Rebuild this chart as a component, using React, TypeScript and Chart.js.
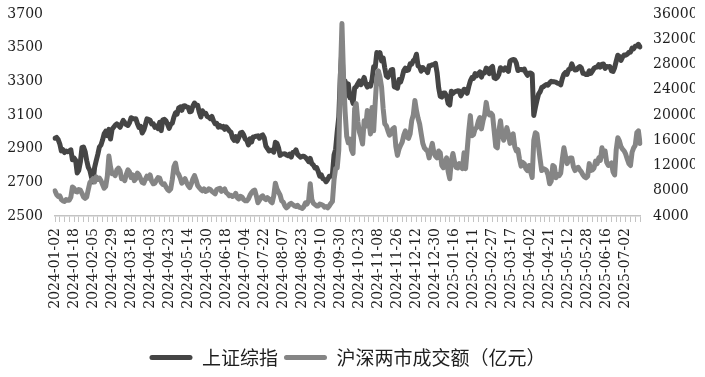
import { useEffect, useRef } from "react";
import { Chart, registerables } from "chart.js";

Chart.register(...registerables);

// Trading days (categories)
const dates2024: string[] = [
  "2024-01-02","2024-01-03","2024-01-04","2024-01-05","2024-01-08","2024-01-09","2024-01-10","2024-01-11","2024-01-12","2024-01-15",
  "2024-01-16","2024-01-17","2024-01-18","2024-01-19","2024-01-22","2024-01-23","2024-01-24","2024-01-25","2024-01-26","2024-01-29",
  "2024-01-30","2024-01-31",
  "2024-02-01","2024-02-02","2024-02-05","2024-02-06","2024-02-07","2024-02-08","2024-02-19","2024-02-20","2024-02-21","2024-02-22",
  "2024-02-23","2024-02-26","2024-02-27","2024-02-28","2024-02-29",
  "2024-03-01","2024-03-04","2024-03-05","2024-03-06","2024-03-07","2024-03-08","2024-03-11","2024-03-12","2024-03-13","2024-03-14",
  "2024-03-15","2024-03-18","2024-03-19","2024-03-20","2024-03-21","2024-03-22","2024-03-25","2024-03-26","2024-03-27","2024-03-28",
  "2024-03-29",
  "2024-04-01","2024-04-02","2024-04-03","2024-04-08","2024-04-09","2024-04-10","2024-04-11","2024-04-12","2024-04-15","2024-04-16",
  "2024-04-17","2024-04-18","2024-04-19","2024-04-22","2024-04-23","2024-04-24","2024-04-25","2024-04-26","2024-04-29","2024-04-30",
  "2024-05-06","2024-05-07","2024-05-08","2024-05-09","2024-05-10","2024-05-13","2024-05-14","2024-05-15","2024-05-16","2024-05-17",
  "2024-05-20","2024-05-21","2024-05-22","2024-05-23","2024-05-24","2024-05-27","2024-05-28","2024-05-29","2024-05-30","2024-05-31",
  "2024-06-03","2024-06-04","2024-06-05","2024-06-06","2024-06-07","2024-06-11","2024-06-12","2024-06-13","2024-06-14","2024-06-17",
  "2024-06-18","2024-06-19","2024-06-20","2024-06-21","2024-06-24","2024-06-25","2024-06-26","2024-06-27","2024-06-28",
  "2024-07-01","2024-07-02","2024-07-03","2024-07-04","2024-07-05","2024-07-08","2024-07-09","2024-07-10","2024-07-11","2024-07-12",
  "2024-07-15","2024-07-16","2024-07-17","2024-07-18","2024-07-19","2024-07-22","2024-07-23","2024-07-24","2024-07-25","2024-07-26",
  "2024-07-29","2024-07-30","2024-07-31",
  "2024-08-01","2024-08-02","2024-08-05","2024-08-06","2024-08-07","2024-08-08","2024-08-09","2024-08-12","2024-08-13","2024-08-14",
  "2024-08-15","2024-08-16","2024-08-19","2024-08-20","2024-08-21","2024-08-22","2024-08-23","2024-08-26","2024-08-27","2024-08-28",
  "2024-08-29","2024-08-30",
  "2024-09-02","2024-09-03","2024-09-04","2024-09-05","2024-09-06","2024-09-09","2024-09-10","2024-09-11","2024-09-12","2024-09-13",
  "2024-09-18","2024-09-19","2024-09-20","2024-09-23","2024-09-24","2024-09-25","2024-09-26","2024-09-27","2024-09-30",
  "2024-10-08","2024-10-09","2024-10-10","2024-10-11","2024-10-14","2024-10-15","2024-10-16","2024-10-17","2024-10-18","2024-10-21",
  "2024-10-22","2024-10-23","2024-10-24","2024-10-25","2024-10-28","2024-10-29","2024-10-30","2024-10-31",
  "2024-11-01","2024-11-04","2024-11-05","2024-11-06","2024-11-07","2024-11-08","2024-11-11","2024-11-12","2024-11-13","2024-11-14",
  "2024-11-15","2024-11-18","2024-11-19","2024-11-20","2024-11-21","2024-11-22","2024-11-25","2024-11-26","2024-11-27","2024-11-28",
  "2024-11-29",
  "2024-12-02","2024-12-03","2024-12-04","2024-12-05","2024-12-06","2024-12-09","2024-12-10","2024-12-11","2024-12-12","2024-12-13",
  "2024-12-16","2024-12-17","2024-12-18","2024-12-19","2024-12-20","2024-12-23","2024-12-24","2024-12-25","2024-12-26","2024-12-27",
  "2024-12-30","2024-12-31",
];

const dates2025: string[] = [
  "2025-01-02","2025-01-03","2025-01-06","2025-01-07","2025-01-08","2025-01-09","2025-01-10","2025-01-13","2025-01-14","2025-01-15",
  "2025-01-16","2025-01-17","2025-01-20","2025-01-21","2025-01-22","2025-01-23","2025-01-24","2025-01-27",
  "2025-02-05","2025-02-06","2025-02-07","2025-02-10","2025-02-11","2025-02-12","2025-02-13","2025-02-14","2025-02-17","2025-02-18",
  "2025-02-19","2025-02-20","2025-02-21","2025-02-24","2025-02-25","2025-02-26","2025-02-27","2025-02-28",
  "2025-03-03","2025-03-04","2025-03-05","2025-03-06","2025-03-07","2025-03-10","2025-03-11","2025-03-12","2025-03-13","2025-03-14",
  "2025-03-17","2025-03-18","2025-03-19","2025-03-20","2025-03-21","2025-03-24","2025-03-25","2025-03-26","2025-03-27","2025-03-28",
  "2025-03-31",
  "2025-04-01","2025-04-02","2025-04-03","2025-04-07","2025-04-08","2025-04-09","2025-04-10","2025-04-11","2025-04-14","2025-04-15",
  "2025-04-16","2025-04-17","2025-04-18","2025-04-21","2025-04-22","2025-04-23","2025-04-24","2025-04-25","2025-04-28","2025-04-29",
  "2025-04-30",
  "2025-05-06","2025-05-07","2025-05-08","2025-05-09","2025-05-12","2025-05-13","2025-05-14","2025-05-15","2025-05-16","2025-05-19",
  "2025-05-20","2025-05-21","2025-05-22","2025-05-23","2025-05-26","2025-05-27","2025-05-28","2025-05-29","2025-05-30",
  "2025-06-03","2025-06-04","2025-06-05","2025-06-06","2025-06-09","2025-06-10","2025-06-11","2025-06-12","2025-06-13","2025-06-16",
  "2025-06-17","2025-06-18","2025-06-19","2025-06-20","2025-06-23","2025-06-24","2025-06-25","2025-06-26","2025-06-27","2025-06-30",
  "2025-07-01","2025-07-02","2025-07-03","2025-07-04","2025-07-07","2025-07-08","2025-07-09","2025-07-10","2025-07-11","2025-07-14",
  "2025-07-15",
];

// 上证综指 (left axis)
const sse2024: number[] = [
  2962, 2967, 2954, 2929, 2887, 2894, 2877, 2886, 2882, 2886, 2893, 2834, 2845, 2832, 2756, 2771, 2820, 2906, 2910, 2883, 2830, 2789,
  2771, 2730, 2702, 2789, 2829, 2866, 2910, 2922, 2951, 2988, 3004, 2977, 3015, 2957, 3015,
  3027, 3039, 3047, 3039, 3027, 3046, 3068, 3055, 3043, 3038, 3054, 3084, 3079, 3077, 3078, 3048, 3026, 3032, 2993, 3010, 3041,
  3077, 3074, 3069, 3047, 3048, 3027, 3034, 3019, 3057, 3007, 3071, 3074, 3065, 3045, 3021, 3044, 3052, 3088, 3113, 3105,
  3141, 3148, 3128, 3154, 3155, 3148, 3145, 3119, 3122, 3154, 3171, 3157, 3158, 3116, 3088, 3125, 3109, 3111, 3091, 3087,
  3078, 3091, 3065, 3048, 3051, 3028, 3037, 3028, 3032, 3015, 3030, 3018, 3005, 2998, 2963, 2950, 2972, 2945, 2967,
  2994, 2997, 2982, 2957, 2949, 2922, 2959, 2939, 2970, 2971, 2974, 2976, 2962, 2977, 2982, 2964, 2915, 2901, 2886, 2890, 2891, 2879, 2938,
  2932, 2905, 2860, 2867, 2869, 2870, 2862, 2858, 2868, 2850, 2877, 2879, 2893, 2866, 2857, 2849, 2855, 2855, 2848, 2837, 2823, 2842,
  2811, 2802, 2785, 2788, 2765, 2736, 2744, 2721, 2717, 2704, 2717, 2736, 2736, 2748, 2863, 2896, 3000, 3088, 3336,
  3489, 3258, 3302, 3217, 3285, 3202, 3202, 3169, 3261, 3268, 3286, 3302, 3280, 3300, 3323, 3286, 3266, 3280,
  3272, 3310, 3387, 3383, 3471, 3452, 3470, 3421, 3439, 3380, 3331, 3324, 3346, 3368, 3370, 3267, 3264, 3259, 3310, 3296, 3326,
  3364, 3379, 3364, 3368, 3404, 3402, 3422, 3432, 3461, 3392, 3386, 3361, 3382, 3370, 3368, 3352, 3393, 3394, 3399, 3400, 3407, 3352,
];

const sse2025: number[] = [
  3262, 3211, 3206, 3230, 3230, 3212, 3169, 3160, 3241, 3228, 3237, 3241, 3244, 3243, 3214, 3231, 3253, 3251,
  3229, 3270, 3303, 3322, 3318, 3346, 3333, 3346, 3356, 3325, 3351, 3350, 3379, 3373, 3346, 3380, 3388, 3321,
  3316, 3324, 3342, 3381, 3373, 3366, 3380, 3371, 3359, 3419, 3426, 3430, 3427, 3408, 3364, 3370, 3370, 3368, 3373, 3351, 3336,
  3348, 3350, 3342, 3097, 3145, 3186, 3224, 3238, 3263, 3268, 3276, 3281, 3277, 3291, 3300, 3297, 3297, 3295, 3288, 3287, 3279,
  3316, 3343, 3353, 3342, 3370, 3374, 3404, 3380, 3367, 3368, 3381, 3388, 3380, 3348, 3346, 3340, 3340, 3363, 3347,
  3361, 3377, 3384, 3385, 3399, 3385, 3402, 3403, 3377, 3388, 3387, 3388, 3362, 3359, 3381, 3420, 3455, 3448, 3424, 3444,
  3457, 3455, 3461, 3473, 3473, 3497, 3493, 3509, 3510, 3520, 3505,
];

// 沪深两市成交额（亿元） (right axis)
const turnover2024: number[] = [
  7980, 7400, 7100, 7200, 6600, 6400, 6300, 6600, 6500, 6500,
  7000, 8600, 8400, 7900, 7800, 8200, 8100, 7600, 7000, 6800,
  7000, 8200, 9300, 9600, 9900, 9400, 10200, 9800, 10000, 9600,
  9000, 8400, 8700, 10300, 13500, 11800, 10700, 10800, 10400, 11300,
  11600, 11200, 9900, 10000, 9600, 10600, 11300, 11000, 10100, 10500,
  9600, 9900, 10800, 10500, 9900, 9300, 9200, 9800, 10300, 10000,
  10500, 9500, 9100, 9200, 9700, 10100, 10000, 9300, 9000, 9100,
  8600, 8200, 8000, 8300, 9800, 11800, 12400, 11000, 10600, 10000,
  9200, 9600, 9900, 9300, 8800, 8500, 9100, 9900, 10400, 9700,
  8800, 8500, 8200, 8000, 8300, 7900, 8000, 8300, 8200, 7900,
  7700, 7500, 8200, 8300, 8400, 7900, 8100, 8300, 7700, 7500,
  7200, 7300, 7100, 7200, 7600, 6900, 6700, 7100, 7000, 6600,
  6400, 6400, 6700, 7300, 7700, 8000, 8100, 7200, 6100, 6500,
  7000, 7200, 6800, 6600, 6900, 6700, 6300, 6100, 7200, 9200,
  8300, 7800, 7300, 6400, 6200, 5600, 5300, 5500, 5900, 6000,
  5800, 5600, 5500, 5700, 5400, 5300, 5200, 5500, 6100, 5900,
  6500, 9100, 6600, 6000, 5800, 5600, 5600, 5900, 5800, 5700,
  5400, 5500, 5300, 5600, 6000, 6300, 9700, 11500, 11600, 14400,
  26000, 34500, 26000, 20500, 16600, 15600, 16200, 14500, 13900, 21000,
  21800, 19000, 17300, 16500, 15400, 19100, 18200, 20700, 19000, 17000,
  21200, 17500, 22000, 26000, 27000, 26000, 24400, 21000, 18600, 18300,
  17500, 16800, 17100, 17800, 18000, 15000, 13600, 14600, 15200, 15700,
  16800, 17500, 16500, 16300, 17000, 19100, 20000, 22300, 20700, 19500,
  18600, 17000, 15500, 14800, 14500, 14300, 13200, 14500, 15500, 14000,
  13500, 13200,
];

const turnover2025: number[] = [
  14300, 14000, 12000, 11650, 12500, 13200, 11000, 9900, 12800, 13900,
  12600, 11700, 11600, 12300, 11800, 11500, 14000, 11500, 14500, 17500,
  19900, 16700, 16900, 17800, 18000, 19000, 19600, 17800, 19100, 20000,
  22000, 20500, 20000, 20300, 20000, 17500, 15000, 14800, 17500, 19100,
  17000, 16000, 16800, 18000, 17000, 15500, 16700, 17000, 15000, 14300,
  14500, 13000, 11900, 12500, 12300, 11500, 11200, 12000, 11000, 10100,
  16000, 17200, 17000, 15000, 13000, 11200, 11500, 11400, 11200, 10500,
  9100, 9500, 12000, 11800, 10050, 10600, 10400, 10800, 13000, 14800,
  13500, 12300, 12800, 13200, 13200, 11800, 11200, 11600, 11700, 11300,
  11000, 10500, 10200, 10050, 10300, 12300, 11200, 11300, 11600, 12700,
  12300, 13200, 12800, 14800, 13500, 14300, 12500, 12000, 12200, 12400,
  11000, 10500, 14500, 16400, 15900, 15000, 14600, 14300, 13800, 13000,
  12300, 12000, 14100, 14800, 15200, 17200, 17500, 15500,
];

const seriesNames = ["上证综指", "沪深两市成交额（亿元）"];
const leftMin = 2500;
const leftMax = 3700;
const leftStep = 200;
const rightMin = 4000;
const rightMax = 36000;
const rightStep = 4000;
const labelEvery = 12;
const tickMarkEvery = 3;

const categories = [...dates2024, ...dates2025];
const sseIndex = [...sse2024, ...sse2025];
const turnover = [...turnover2024, ...turnover2025];

const DARK = "#454545";
const LIGHT = "#858585";
const AXIS = "#c4c4c4";
const TEXT = "#1e1e1e";
const SERIF = "'DejaVu Serif', 'Liberation Serif', serif";
const CJK = "'Noto Sans CJK SC', 'Noto Sans', sans-serif";

export default function App() {
  const canvasRef = useRef<HTMLCanvasElement | null>(null);

  useEffect(() => {
    const canvas = canvasRef.current;
    if (!canvas) return;
    const chart = new Chart(canvas, {
      type: "line",
      data: {
        labels: categories,
        datasets: [
          {
            label: seriesNames[0],
            data: sseIndex,
            yAxisID: "y",
            borderColor: DARK,
            backgroundColor: DARK,
            borderWidth: 5,
            pointRadius: 0,
            tension: 0,
            borderJoinStyle: "round",
            borderCapStyle: "round",
            order: 1,
          },
          {
            label: seriesNames[1],
            data: turnover,
            yAxisID: "y1",
            borderColor: LIGHT,
            backgroundColor: LIGHT,
            borderWidth: 5,
            pointRadius: 0,
            tension: 0,
            borderJoinStyle: "round",
            borderCapStyle: "round",
            order: 0,
          },
        ],
      },
      options: {
        animation: false,
        responsive: true,
        maintainAspectRatio: false,
        layout: { padding: { top: 14, left: 0, right: 10, bottom: 0 } },
        plugins: {
          tooltip: { enabled: false },
          legend: {
            position: "bottom",
            labels: {
              boxWidth: 43,
              boxHeight: 5,
              padding: 6,
              color: TEXT,
              font: { family: CJK, size: 19 },
              generateLabels: (c: any) =>
                c.data.datasets.map((ds: any, i: number) => ({
                  text: ds.label,
                  fillStyle: ds.borderColor,
                  strokeStyle: ds.borderColor,
                  lineWidth: 0,
                  hidden: false,
                  datasetIndex: i,
                  borderRadius: 2.5,
                  fontColor: TEXT,
                })),
            },
          },
        },
        scales: {
          x: {
            type: "category",
            offset: false,
            grid: {
              display: true,
              drawOnChartArea: false,
              drawTicks: true,
              tickLength: 6,
              lineWidth: 1,
              color: "rgba(0,0,0,0)",
              tickColor: (ctx: any) => (ctx.index % tickMarkEvery === 0 ? AXIS : "rgba(0,0,0,0)"),
            },
            border: { display: true, color: AXIS, width: 1.5 },
            ticks: {
              autoSkip: false,
              minRotation: 90,
              maxRotation: 90,
              padding: 6,
              color: TEXT,
              font: { family: SERIF, size: 14 },
              callback: (_v: any, i: number) => (i % labelEvery === 0 ? categories[i] : ""),
            },
            afterFit: (s: any) => {
              s.height = 126;
              s.paddingLeft = 0;
              s.paddingRight = 0;
            },
          },
          y: {
            position: "left",
            min: leftMin,
            max: leftMax,
            grid: { display: false, drawTicks: false },
            border: { display: false },
            ticks: {
              stepSize: leftStep,
              padding: 12,
              color: TEXT,
              font: { family: SERIF, size: 14 },
              callback: (v: any) => String(v),
            },
            afterFit: (s: any) => {
              s.width = 55;
              s.paddingTop = 0;
              s.paddingBottom = 0;
            },
          },
          y1: {
            position: "right",
            min: rightMin,
            max: rightMax,
            grid: { display: false, drawTicks: false },
            border: { display: false },
            ticks: {
              stepSize: rightStep,
              padding: 13,
              color: TEXT,
              font: { family: SERIF, size: 14 },
              callback: (v: any) => String(v),
            },
            afterFit: (s: any) => {
              s.width = 55;
              s.paddingTop = 0;
              s.paddingBottom = 0;
            },
          },
        },
      },
    } as any);
    return () => chart.destroy();
  }, []);

  return (
    <div style={{ position: "fixed", left: 0, top: 0, width: 705, height: 377, background: "#fff" }}>
      <canvas ref={canvasRef} />
    </div>
  );
}
